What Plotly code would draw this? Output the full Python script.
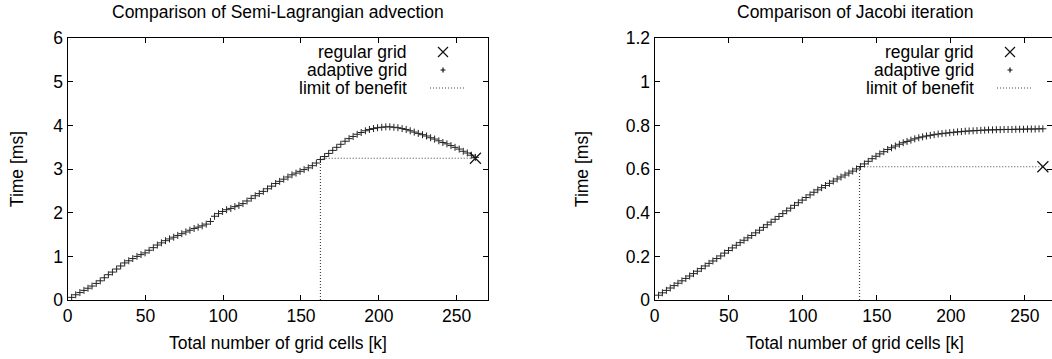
import plotly.graph_objects as go

# ---------------- data ----------------
cells_k = [2.6, 5.2, 7.9, 10.5, 13.1, 15.7, 18.4, 21.0, 23.6, 26.2,
           28.8, 31.5, 34.1, 36.7, 39.3, 41.9, 44.6, 47.2, 49.8, 52.4,
           55.1, 57.7, 60.3, 62.9, 65.5, 68.2, 70.8, 73.4, 76.0, 78.6,
           81.3, 83.9, 86.5, 89.1, 91.8, 94.4, 97.0, 99.6, 102.2, 104.9,
           107.5, 110.1, 112.7, 115.3, 118.0, 120.6, 123.2, 125.8, 128.5, 131.1,
           133.7, 136.3, 138.9, 141.6, 144.2, 146.8, 149.4, 152.0, 154.7, 157.3,
           159.9, 162.5, 165.2, 167.8, 170.4, 173.0, 175.6, 178.3, 180.9, 183.5,
           186.1, 188.7, 191.4, 194.0, 196.6, 199.2, 201.9, 204.5, 207.1, 209.7,
           212.3, 215.0, 217.6, 220.2, 222.8, 225.4, 228.1, 230.7, 233.3, 235.9,
           238.6, 241.2, 243.8, 246.4, 249.0, 251.7, 254.3, 256.9, 259.5, 262.1]

advect_adaptive = [0.06, 0.12, 0.17, 0.22, 0.27, 0.32, 0.38, 0.44, 0.51, 0.58,
                   0.64, 0.71, 0.78, 0.85, 0.90, 0.95, 1.00, 1.04, 1.08, 1.14,
                   1.20, 1.26, 1.31, 1.36, 1.40, 1.44, 1.48, 1.52, 1.56, 1.60,
                   1.64, 1.67, 1.70, 1.74, 1.80, 1.92, 1.98, 2.03, 2.07, 2.10,
                   2.14, 2.17, 2.21, 2.27, 2.33, 2.39, 2.44, 2.49, 2.55, 2.61,
                   2.67, 2.72, 2.77, 2.82, 2.87, 2.91, 2.95, 2.99, 3.03, 3.08,
                   3.14, 3.22, 3.29, 3.36, 3.43, 3.50, 3.57, 3.64, 3.70, 3.75,
                   3.80, 3.84, 3.88, 3.91, 3.93, 3.95, 3.96, 3.97, 3.97, 3.96,
                   3.95, 3.93, 3.91, 3.88, 3.85, 3.82, 3.79, 3.76, 3.72, 3.69,
                   3.65, 3.61, 3.58, 3.54, 3.50, 3.46, 3.41, 3.37, 3.32, 3.27]

jacobi_adaptive = [0.022, 0.033, 0.044, 0.055, 0.066, 0.077, 0.088, 0.099, 0.110, 0.121,
                   0.132, 0.144, 0.156, 0.168, 0.179, 0.190, 0.202, 0.215, 0.227, 0.239,
                   0.251, 0.263, 0.274, 0.285, 0.296, 0.308, 0.320, 0.333, 0.345, 0.357,
                   0.370, 0.383, 0.396, 0.409, 0.421, 0.434, 0.446, 0.458, 0.470, 0.482,
                   0.494, 0.505, 0.515, 0.525, 0.535, 0.545, 0.555, 0.564, 0.573, 0.582,
                   0.591, 0.601, 0.612, 0.624, 0.636, 0.648, 0.659, 0.670, 0.680, 0.690,
                   0.698, 0.706, 0.714, 0.721, 0.727, 0.733, 0.739, 0.744, 0.748, 0.752,
                   0.755, 0.758, 0.761, 0.763, 0.765, 0.767, 0.769, 0.771, 0.772, 0.774,
                   0.775, 0.776, 0.777, 0.778, 0.779, 0.780, 0.780, 0.781, 0.781, 0.782,
                   0.782, 0.782, 0.783, 0.783, 0.783, 0.784, 0.784, 0.784, 0.785, 0.785]

regular_cells_k = 262.1
advect_regular = 3.25
jacobi_regular = 0.611
advect_limit_k = 162.5
jacobi_limit_k = 138.3

titles = ["Comparison of Semi-Lagrangian advection", "Comparison of Jacobi iteration"]
legend_labels = ["regular grid", "adaptive grid", "limit of benefit"]
x_title = "Total number of grid cells [k]"
y_title = "Time [ms]"
x_ticks = [0, 50, 100, 150, 200, 250]
y_ticks_left = [0, 1, 2, 3, 4, 5, 6]
y_ticks_right = [0, 0.2, 0.4, 0.6, 0.8, 1.0, 1.2]

# ---------------- layout helpers ----------------
W, H = 1052, 359
FONT = "Liberation Sans, Arial, Helvetica, sans-serif"
FS = 17.5
DOT = "1px,2px"
DOT_COLOR = "#444444"


def px(x):
    return x / W


def py(y):
    return 1 - y / H


fig = go.Figure()

panels = [
    dict(xa="x", ya="y", y=advect_adaptive, reg=advect_regular, lim=advect_limit_k),
    dict(xa="x2", ya="y2", y=jacobi_adaptive, reg=jacobi_regular, lim=jacobi_limit_k),
]

for p in panels:
    fig.add_trace(go.Scatter(
        x=[p["lim"], p["lim"], regular_cells_k], y=[0, p["reg"], p["reg"]],
        mode="lines", line=dict(color=DOT_COLOR, width=1.2, dash=DOT),
        xaxis=p["xa"], yaxis=p["ya"], showlegend=False, hoverinfo="skip"))
    fig.add_trace(go.Scatter(
        x=cells_k, y=p["y"], mode="markers",
        marker=dict(symbol="cross-thin-open", size=5, color="#222222",
                    line=dict(width=1, color="#222222")),
        xaxis=p["xa"], yaxis=p["ya"], showlegend=False))
    fig.add_trace(go.Scatter(
        x=[regular_cells_k], y=[p["reg"]], mode="markers",
        marker=dict(symbol="x-thin-open", size=11, color="#111111",
                    line=dict(width=1.2, color="#111111")),
        xaxis=p["xa"], yaxis=p["ya"], showlegend=False))

axis_common = dict(
    showline=True, linecolor="black", linewidth=1.2, mirror="ticks",
    ticks="inside", ticklen=5, tickcolor="black", tickwidth=1,
    showgrid=False, zeroline=False, automargin=False,
    tickfont=dict(family=FONT, size=FS, color="black"),
)

PL_TOP, PL_BOT = 38.3, 300
L_LEFT, L_RIGHT = 67.6, 487.7
R_LEFT, R_RIGHT = 654.7, 1054.5
y_dom = [py(PL_BOT), py(PL_TOP)]
left_dom = [px(L_LEFT), px(L_RIGHT)]
right_dom = [px(R_LEFT), 1.0]

fig.update_layout(
    width=W, height=H,
    margin=dict(l=0, r=0, t=0, b=0),
    paper_bgcolor="white", plot_bgcolor="white",
    font=dict(family=FONT, size=FS, color="black"),
    xaxis=dict(domain=left_dom, range=[0, 270], tickvals=x_ticks, anchor="y", **axis_common),
    yaxis=dict(domain=y_dom, range=[0, 6], tickvals=y_ticks_left, anchor="x", **axis_common),
    xaxis2=dict(domain=right_dom, range=[0, (W - R_LEFT) / 1.481], tickvals=x_ticks, anchor="y2",
                **axis_common),
    yaxis2=dict(domain=y_dom, range=[0, 1.2], tickvals=y_ticks_right, anchor="x2", **axis_common),
)

centers = [(L_LEFT + L_RIGHT) / 2, (R_LEFT + R_RIGHT) / 2]
ytitle_x = [17, 582]
mid_y = (PL_TOP + PL_BOT) / 2

for cx, yx, t in zip(centers, ytitle_x, titles):
    # panel title
    fig.add_annotation(x=px(cx), y=py(12), xref="paper", yref="paper",
                       text=t, showarrow=False, xanchor="center", yanchor="middle",
                       font=dict(family=FONT, size=FS, color="black"))
    # x axis title
    fig.add_annotation(x=px(cx), y=py(343), xref="paper", yref="paper",
                       text=x_title, showarrow=False, xanchor="center", yanchor="middle",
                       font=dict(family=FONT, size=FS, color="black"))
    # y axis title
    fig.add_annotation(x=px(yx), y=py(mid_y), xref="paper", yref="paper",
                       text=y_title, showarrow=False, xanchor="center", yanchor="middle",
                       textangle=-90, font=dict(family=FONT, size=FS, color="black"))

# manual legends (text right-aligned, key to the right, as in the original)
rows = [52, 70, 88]
for text_right, key_x in [(408, 443), (975, 1010)]:
    for lab, ry in zip(legend_labels, rows):
        fig.add_annotation(x=px(text_right), y=py(ry), xref="paper", yref="paper",
                           text=lab, showarrow=False, xanchor="right", yanchor="middle",
                           borderpad=0,
                           font=dict(family=FONT, size=FS, color="black"))
    # regular grid key: X
    s = 5
    fig.add_shape(type="path", xref="paper", yref="paper",
                  path=f"M {px(key_x - s)} {py(rows[0] - s)} L {px(key_x + s)} {py(rows[0] + s)} "
                       f"M {px(key_x + s)} {py(rows[0] - s)} L {px(key_x - s)} {py(rows[0] + s)}",
                  line=dict(color="#111111", width=1.2))
    # adaptive grid key: small +
    s2 = 2.5
    fig.add_shape(type="path", xref="paper", yref="paper",
                  path=f"M {px(key_x - s2)} {py(rows[1])} L {px(key_x + s2)} {py(rows[1])} "
                       f"M {px(key_x)} {py(rows[1] - s2)} L {px(key_x)} {py(rows[1] + s2)}",
                  line=dict(color="#111111", width=1.2))
    # limit of benefit key: dotted line
    fig.add_shape(type="line", xref="paper", yref="paper",
                  x0=px(key_x - 13), x1=px(key_x + 22), y0=py(rows[2]), y1=py(rows[2]),
                  line=dict(color=DOT_COLOR, width=1.2, dash=DOT))

fig.write_html("out.html",
               config={"displayModeBar": False},
               post_script="document.body.style.margin='0';document.body.style.padding='0';")
